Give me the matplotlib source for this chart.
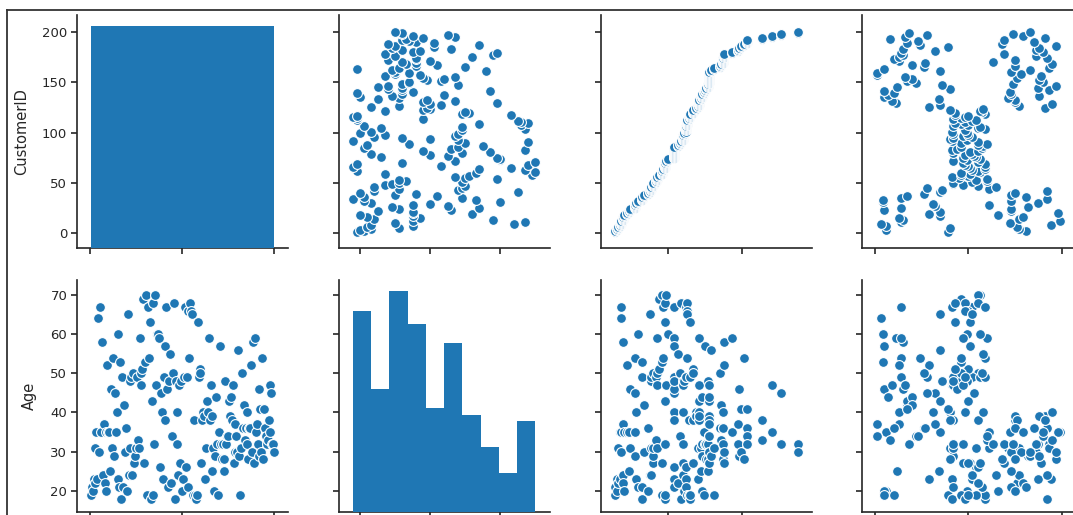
import matplotlib
matplotlib.use("Agg")
import matplotlib.pyplot as plt
from matplotlib.ticker import MultipleLocator
from matplotlib.lines import Line2D

# ---- data (Mall Customers) ----
customer_id = [
    1, 2, 3, 4, 5, 6, 7, 8, 9, 10, 11, 12, 13, 14, 15, 16, 17, 18, 19, 20,
    21, 22, 23, 24, 25, 26, 27, 28, 29, 30, 31, 32, 33, 34, 35, 36, 37, 38, 39, 40,
    41, 42, 43, 44, 45, 46, 47, 48, 49, 50, 51, 52, 53, 54, 55, 56, 57, 58, 59, 60,
    61, 62, 63, 64, 65, 66, 67, 68, 69, 70, 71, 72, 73, 74, 75, 76, 77, 78, 79, 80,
    81, 82, 83, 84, 85, 86, 87, 88, 89, 90, 91, 92, 93, 94, 95, 96, 97, 98, 99, 100,
    101, 102, 103, 104, 105, 106, 107, 108, 109, 110, 111, 112, 113, 114, 115, 116, 117, 118, 119, 120,
    121, 122, 123, 124, 125, 126, 127, 128, 129, 130, 131, 132, 133, 134, 135, 136, 137, 138, 139, 140,
    141, 142, 143, 144, 145, 146, 147, 148, 149, 150, 151, 152, 153, 154, 155, 156, 157, 158, 159, 160,
    161, 162, 163, 164, 165, 166, 167, 168, 169, 170, 171, 172, 173, 174, 175, 176, 177, 178, 179, 180,
    181, 182, 183, 184, 185, 186, 187, 188, 189, 190, 191, 192, 193, 194, 195, 196, 197, 198, 199, 200,
]
age = [
    19, 21, 20, 23, 31, 22, 35, 23, 64, 30, 67, 35, 58, 24, 37, 22, 35, 20, 52, 35,
    35, 25, 46, 31, 54, 29, 45, 35, 40, 23, 60, 21, 53, 18, 49, 21, 42, 30, 36, 20,
    65, 24, 48, 31, 49, 24, 50, 27, 29, 31, 49, 33, 31, 59, 50, 47, 51, 69, 27, 53,
    70, 19, 67, 54, 63, 18, 43, 68, 19, 32, 70, 47, 60, 60, 59, 26, 45, 40, 23, 49,
    57, 38, 67, 46, 21, 48, 55, 22, 34, 50, 68, 18, 48, 40, 32, 24, 47, 27, 48, 20,
    23, 49, 67, 26, 49, 21, 66, 54, 68, 66, 65, 19, 38, 19, 18, 19, 63, 49, 51, 50,
    27, 38, 40, 39, 23, 31, 43, 40, 59, 38, 47, 39, 25, 31, 20, 29, 44, 32, 19, 35,
    57, 32, 28, 32, 25, 28, 48, 32, 34, 34, 43, 39, 44, 38, 47, 27, 37, 30, 34, 30,
    56, 29, 19, 31, 50, 36, 42, 33, 36, 32, 40, 28, 36, 36, 52, 30, 58, 27, 59, 35,
    37, 32, 46, 29, 41, 30, 54, 28, 41, 36, 34, 32, 33, 38, 47, 35, 45, 32, 32, 30,
]
annual_income = [
    15, 15, 16, 16, 17, 17, 18, 18, 19, 19, 19, 19, 20, 20, 20, 20, 21, 21, 23, 23,
    24, 24, 25, 25, 28, 28, 28, 28, 29, 29, 30, 30, 33, 33, 33, 33, 34, 34, 37, 37,
    38, 38, 39, 39, 39, 39, 40, 40, 40, 40, 42, 42, 43, 43, 43, 43, 44, 44, 46, 46,
    46, 46, 47, 47, 48, 48, 48, 48, 48, 48, 49, 49, 50, 50, 54, 54, 54, 54, 54, 54,
    54, 54, 54, 54, 54, 54, 57, 57, 58, 58, 59, 59, 60, 60, 60, 60, 60, 60, 61, 61,
    62, 62, 62, 62, 62, 62, 63, 63, 63, 63, 63, 63, 64, 64, 65, 65, 65, 65, 67, 67,
    67, 67, 69, 69, 70, 70, 71, 71, 71, 71, 71, 71, 72, 72, 73, 73, 73, 73, 74, 74,
    75, 75, 76, 76, 77, 77, 77, 77, 78, 78, 78, 78, 78, 78, 78, 78, 78, 78, 78, 78,
    79, 79, 81, 81, 85, 85, 86, 86, 87, 87, 87, 87, 87, 87, 88, 88, 88, 88, 93, 93,
    97, 97, 98, 98, 99, 99, 101, 101, 103, 103, 103, 103, 113, 113, 120, 120, 126, 126, 137, 137,
]
spending_score = [
    39, 81, 6, 77, 40, 76, 6, 94, 3, 72, 14, 99, 15, 77, 13, 79, 35, 66, 29, 98,
    35, 73, 5, 73, 14, 82, 32, 61, 31, 87, 4, 73, 4, 92, 14, 81, 17, 73, 26, 75,
    35, 92, 36, 61, 28, 65, 55, 47, 42, 42, 52, 60, 54, 60, 45, 41, 50, 46, 51, 46,
    56, 55, 52, 59, 51, 59, 50, 48, 59, 47, 55, 42, 49, 56, 47, 54, 53, 48, 52, 42,
    51, 55, 41, 44, 57, 46, 58, 55, 60, 46, 55, 41, 49, 40, 42, 52, 47, 50, 42, 49,
    41, 48, 59, 55, 56, 42, 50, 46, 43, 48, 52, 54, 42, 46, 48, 50, 43, 59, 43, 57,
    56, 40, 58, 91, 29, 77, 35, 95, 11, 75, 9, 75, 34, 71, 5, 88, 7, 73, 10, 72,
    5, 93, 40, 87, 12, 97, 36, 74, 22, 90, 17, 88, 20, 76, 16, 89, 1, 78, 1, 73,
    35, 83, 5, 93, 26, 75, 20, 95, 27, 63, 13, 75, 10, 92, 13, 86, 15, 69, 14, 90,
    32, 86, 15, 88, 39, 97, 24, 68, 17, 85, 23, 69, 8, 91, 16, 79, 28, 74, 18, 83,
]

col_vars = [customer_id, age, annual_income, spending_score]
row_vars = [customer_id, age]
row_labels = ["CustomerID", "Age"]

# ---- style ----
TXT = "#262626"
BLUE = "#1f77b4"
plt.rcParams.update({
    "font.family": "DejaVu Sans",
    "axes.edgecolor": TXT,
    "axes.linewidth": 1.2,
    "xtick.color": TXT,
    "ytick.color": TXT,
    "xtick.major.size": 4.5,
    "ytick.major.size": 4.5,
    "xtick.major.width": 1.2,
    "ytick.major.width": 1.2,
    "ytick.major.pad": 2.5,
    "text.color": TXT,
    "axes.labelcolor": TXT,
})

W, H = 1073, 515
fig = plt.figure(figsize=(W / 100, H / 100), dpi=100)

col_left_px = [77, 339, 601, 862]
col_w_px = 211
row_top_px = [15, 280]
row_h_px = [233, 232]

col_xlim = [(-14, 215), (14, 74.2), (5.5, 146.5), (-7, 106)]
col_xstep = [100, 20, 50, 50]
row_ylim = [(-15, 217), (14.6, 73.8)]
row_ystep = [50, 10]
label_x = [-0.2275, -0.19]

for r in range(2):
    for c in range(4):
        left = col_left_px[c] / W
        bottom = (H - row_top_px[r] - row_h_px[r]) / H
        ax = fig.add_axes([left, bottom, col_w_px / W, row_h_px[r] / H])
        ax.set_xlim(*col_xlim[c])
        ax.set_ylim(*row_ylim[r])
        ax.xaxis.set_major_locator(MultipleLocator(col_xstep[c]))
        ax.yaxis.set_major_locator(MultipleLocator(row_ystep[r]))
        for s in ("top", "right"):
            ax.spines[s].set_visible(False)
        ax.tick_params(labelbottom=False)
        if c == 0:
            ax.tick_params(axis="y", labelsize=9.5)
            ax.set_ylabel(row_labels[r], fontsize=10.5)
            ax.yaxis.set_label_coords(label_x[r], 0.5)
        else:
            ax.tick_params(labelleft=False)
        if r == c:
            ax2 = ax.twinx()
            ax2.hist(col_vars[c], bins=10, color=BLUE, histtype="stepfilled",
                     linewidth=0)
            ax2.set_axis_off()
        else:
            ax.scatter(col_vars[c], row_vars[r], s=50, color=BLUE,
                       edgecolor="white", linewidth=0.8)

# screenshot frame line (top and left)
fig.add_artist(Line2D([7 / W, 7 / W], [0, 1 - 10 / H], transform=fig.transFigure,
                      color="#333333", linewidth=1.3))
fig.add_artist(Line2D([7 / W, 1], [1 - 10 / H, 1 - 10 / H], transform=fig.transFigure,
                      color="#333333", linewidth=1.3))

fig.savefig("out.png", dpi=100)
